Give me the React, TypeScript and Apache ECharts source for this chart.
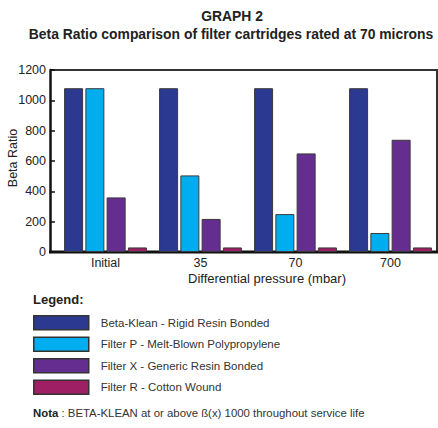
import React, { useEffect, useRef } from "react";
import * as echarts from "echarts";

const categories = ["Initial", "35", "70", "700"];
const seriesNames = [
  "Beta-Klean - Rigid Resin Bonded",
  "Filter P - Melt-Blown Polypropylene",
  "Filter X - Generic Resin Bonded",
  "Filter R - Cotton Wound",
];
const betaKlean = [1080, 1080, 1080, 1080];
const filterP = [1080, 505, 250, 125];
const filterX = [360, 218, 650, 740];
const filterR = [30, 30, 30, 30];
const seriesColors = ["#2B3990", "#00AEEF", "#662D91", "#9E1F63"];
const yTicks = { min: 0, max: 1200, interval: 200 };

const SANS = "'Liberation Sans', Arial, sans-serif";

export default function App() {
  const ref = useRef<HTMLDivElement>(null);
  useEffect(() => {
    if (!ref.current) return;
    const chart = echarts.init(ref.current, null, { renderer: "svg" });
    const values = [betaKlean, filterP, filterX, filterR];
    chart.setOption({
      animation: false,
      textStyle: { fontFamily: SANS },
      grid: { left: 58, right: 0, top: 70, bottom: 176, containLabel: false, outerBoundsMode: "none" },
      xAxis: {
        type: "category",
        data: categories,
        axisLine: { show: false },
        axisTick: { show: false },
        axisLabel: { fontSize: 12.5, color: "#222", margin: 4, fontFamily: SANS },
      },
      yAxis: {
        type: "value",
        min: yTicks.min,
        max: yTicks.max,
        interval: yTicks.interval,
        offset: 8,
        axisLine: { show: true, lineStyle: { color: "#111", width: 2.5 } },
        axisTick: { show: true, inside: true, length: 5, lineStyle: { color: "#111", width: 1.5 } },
        splitLine: { show: false },
        axisLabel: {
          fontSize: 12.5,
          color: "#222",
          margin: 4,
          fontFamily: SANS,
          formatter: (v: number) => String(v),
        },
      },
      legend: {
        orient: "vertical",
        left: 33,
        top: 315,
        padding: 0,
        itemWidth: 55,
        itemHeight: 14,
        itemGap: 6,
        icon: "rect",
        itemStyle: { borderColor: "#333", borderWidth: 1.5 },
        textStyle: { fontSize: 11.5, color: "#333", fontFamily: SANS, padding: [0, 0, 0, 7] },
        data: seriesNames,
      },
      series: seriesNames.map((name, i) => ({
        name,
        type: "bar",
        data: values[i],
        barWidth: 19,
        barGap: "12%",
        itemStyle: { color: seriesColors[i], borderColor: "#3a3a3a", borderWidth: 1 },
      })),
      graphic: [
        { type: "line", shape: { x1: 50, y1: 70, x2: 437, y2: 70 }, style: { stroke: "#333", lineWidth: 2 } },
        { type: "line", shape: { x1: 437, y1: 69, x2: 437, y2: 252 }, style: { stroke: "#333", lineWidth: 2 } },
        { type: "line", shape: { x1: 49, y1: 252, x2: 438, y2: 252 }, style: { stroke: "#111", lineWidth: 3 } },
        {
          type: "text",
          x: 13,
          y: 158,
          rotation: Math.PI / 2,
          style: { text: "Beta Ratio", font: `12.5px ${SANS}`, fill: "#222", textAlign: "center", textVerticalAlign: "middle" },
        },
        {
          type: "text",
          x: 232,
          y: 16,
          style: { text: "GRAPH 2", font: `bold 13.9px ${SANS}`, fill: "#222", textAlign: "center", textVerticalAlign: "middle" },
        },
        {
          type: "text",
          x: 231,
          y: 34,
          style: {
            text: "Beta Ratio comparison of filter cartridges rated at 70 microns",
            font: `bold 13.9px ${SANS}`,
            fill: "#222",
            textAlign: "center",
            textVerticalAlign: "middle",
          },
        },
        {
          type: "text",
          x: 267,
          y: 278,
          style: { text: "Differential pressure (mbar)", font: `13px ${SANS}`, fill: "#222", textAlign: "center", textVerticalAlign: "middle" },
        },
        {
          type: "text",
          x: 33,
          y: 299,
          style: { text: "Legend:", font: `bold 13px ${SANS}`, fill: "#222", textAlign: "left", textVerticalAlign: "middle" },
        },
        {
          type: "text",
          x: 33,
          y: 413,
          style: {
            text: "{b|Nota} : BETA-KLEAN at or above ß(x) 1000 throughout service life",
            font: `11.4px ${SANS}`,
            fill: "#333",
            textAlign: "left",
            textVerticalAlign: "middle",
            rich: { b: { fontWeight: "bold", fontSize: 11.4, fontFamily: SANS, fill: "#222" } },
          },
        },
      ],
    });
    return () => chart.dispose();
  }, []);
  return <div ref={ref} style={{ width: 438, height: 428, position: "absolute", left: 0, top: 0 }} />;
}
